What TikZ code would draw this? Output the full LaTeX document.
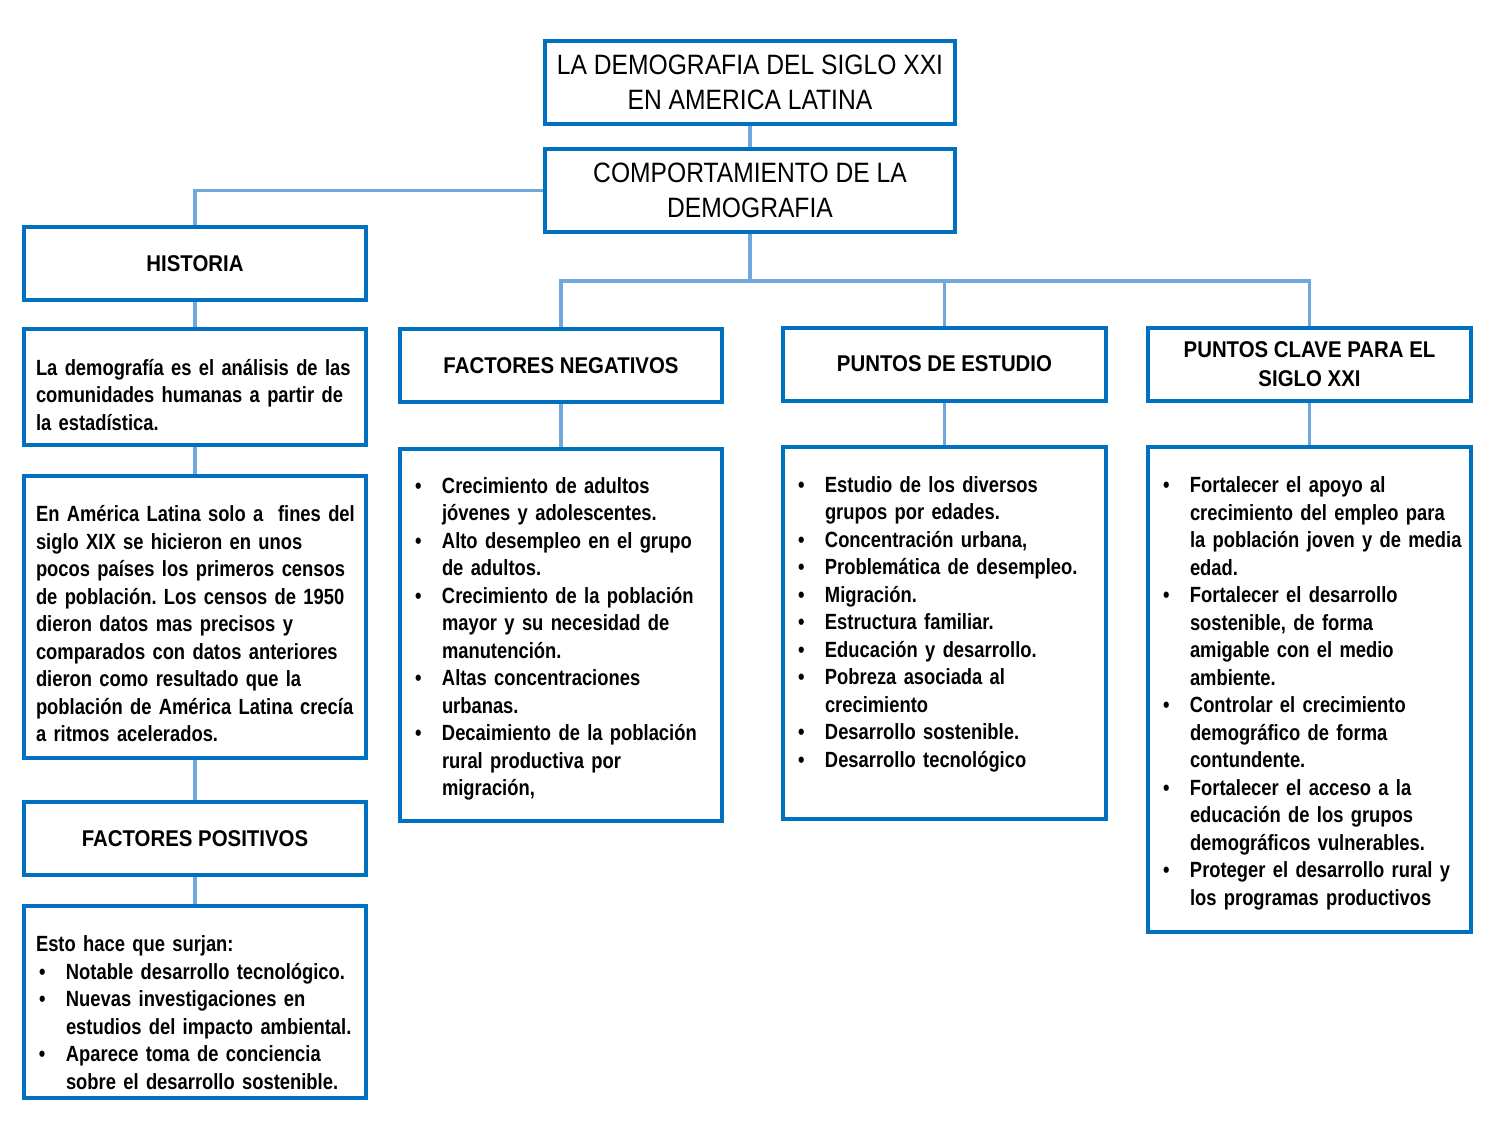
\documentclass[tikz,border=0pt]{standalone}
\usepackage{fontspec}
\setmainfont[FakeStretch=0.835]{Liberation Sans}
\newfontfamily\headfont[FakeStretch=0.88]{Liberation Sans}
\newfontfamily\secfont[FakeStretch=0.895]{Liberation Sans}
\usetikzlibrary{positioning}
\frenchspacing

\definecolor{boxblue}{HTML}{0070C0}
\definecolor{linkblue}{HTML}{6FA8DC}

% bullet and hanging indent for the lists
\newcommand{\blt}{\hspace*{1.5pt}\makebox[13.5pt][l]{\textbullet}}
\newcommand{\ind}{\hspace*{15pt}}
% lines of a box, kept as typed (optional: push down)
\newcommand{\lines}[2][2pt]{\raisebox{-#1}[\height][\depth]{\begin{tabular}{@{}l@{}}#2\end{tabular}}}

\begin{document}
\begin{tikzpicture}[
    x=0.5pt, y=-0.5pt,
    box/.style={draw=boxblue, line width=2pt, fill=white, inner xsep=6pt, inner ysep=2pt},
    titlebox/.style={box, minimum width=205pt, minimum height=41.5pt, align=center,
        font=\headfont\fontsize{14}{17.5}\selectfont},
    headbox/.style={box, minimum width=171pt, minimum height=36.5pt, align=center,
        font=\secfont\bfseries\fontsize{11.4}{14.5}\selectfont},
    textbox/.style={box, text width=159pt, align=left,
        font=\bfseries\fontsize{11}{13.75}\selectfont},
    link/.style={draw=linkblue, line width=1.8pt}
]
    \useasboundingbox (0,0) rectangle (1500,1125);

    % Top of the map
    \node[titlebox] (title) at (750,82.5) {LA DEMOGRAFIA DEL SIGLO XXI\\EN AMERICA LATINA};
    \node[titlebox] (comp) at (750,190.5) {COMPORTAMIENTO DE LA\\DEMOGRAFIA};

    % Left column
    \node[headbox] (hist) at (195,263.5) {HISTORIA};
    \node[textbox, minimum height=58pt] (defin) at (195,387) {\lines[5pt]{La demografía es el análisis de las\\comunidades humanas a partir de\\la estadística.}};
    \node[textbox, minimum height=141pt] (amer) at (195,617) {\lines[4.5pt]{En América Latina solo a \ fines del\\siglo XIX se hicieron en unos\\pocos países los primeros censos\\de población. Los censos de 1950\\dieron datos mas precisos y\\comparados con datos anteriores\\dieron como resultado que la\\población de América Latina crecía\\a ritmos acelerados.}};
    \node[headbox] (fpos) at (195,838.5) {FACTORES POSITIVOS};
    \node[textbox, minimum height=96pt] (fposlist) at (195,1002) {\lines[6.5pt]{Esto hace que surjan:\\\blt Notable desarrollo tecnológico.\\\blt Nuevas investigaciones en\\\ind estudios del impacto ambiental.\\\blt Aparece toma de conciencia\\\ind sobre el desarrollo sostenible.}};

    % Right branches
    \node[headbox, minimum width=161pt] (fneg) at (561,365.5) {FACTORES NEGATIVOS};
    \node[textbox, text width=149pt, minimum height=186pt] (fneglist) at (561,635) {\lines{\blt Crecimiento de adultos\\\ind jóvenes y adolescentes.\\\blt Alto desempleo en el grupo\\\ind de adultos.\\\blt Crecimiento de la población\\\ind mayor y su necesidad de\\\ind manutención.\\\blt Altas concentraciones\\\ind urbanas.\\\blt Decaimiento de la población\\\ind rural productiva por\\\ind migración,}};

    \node[headbox, minimum width=161.5pt] (pest) at (944.5,364) {PUNTOS DE ESTUDIO};
    \node[textbox, text width=149.5pt, minimum height=186pt] (pestlist) at (944.5,633) {\lines{\blt Estudio de los diversos\\\ind grupos por edades.\\\blt Concentración urbana,\\\blt Problemática de desempleo.\\\blt Migración.\\\blt Estructura familiar.\\\blt Educación y desarrollo.\\\blt Pobreza asociada al\\\ind crecimiento\\\blt Desarrollo sostenible.\\\blt Desarrollo tecnológico\\[13pt]}};

    \node[headbox, minimum width=161.5pt] (pclave) at (1309.5,364) {PUNTOS CLAVE PARA EL\\SIGLO XXI};
    \node[textbox, text width=149.5pt, minimum height=242.5pt] (pclavelist) at (1309.5,689.5) {\lines{\blt Fortalecer el apoyo al\\\ind crecimiento del empleo para\\\ind la población joven y de media\\\ind edad.\\\blt Fortalecer el desarrollo\\\ind sostenible, de forma\\\ind amigable con el medio\\\ind ambiente.\\\blt Controlar el crecimiento\\\ind demográfico de forma\\\ind contundente.\\\blt Fortalecer el acceso a la\\\ind educación de los grupos\\\ind demográficos vulnerables.\\\blt Proteger el desarrollo rural y\\\ind los programas productivos}};

    % Connectors
    \coordinate (hub) at (750,281);
    \draw[link] (title.south) -- (comp.north);
    \draw[link] (comp.west) -| (hist.north);
    \draw[link] (hist.south) -- (defin.north);
    \draw[link] (defin.south) -- (amer.north);
    \draw[link] (amer.south) -- (fpos.north);
    \draw[link] (fpos.south) -- (fposlist.north);
    \draw[link] (comp.south) -- (hub);
    \draw[link] (fneg.north) |- (hub) -| (pclave.north);
    \draw[link] (pest.north) -- (pest.north |- hub);
    \draw[link] (fneg.south) -- (fneglist.north);
    \draw[link] (pest.south) -- (pestlist.north);
    \draw[link] (pclave.south) -- (pclavelist.north);
\end{tikzpicture}
\end{document}
